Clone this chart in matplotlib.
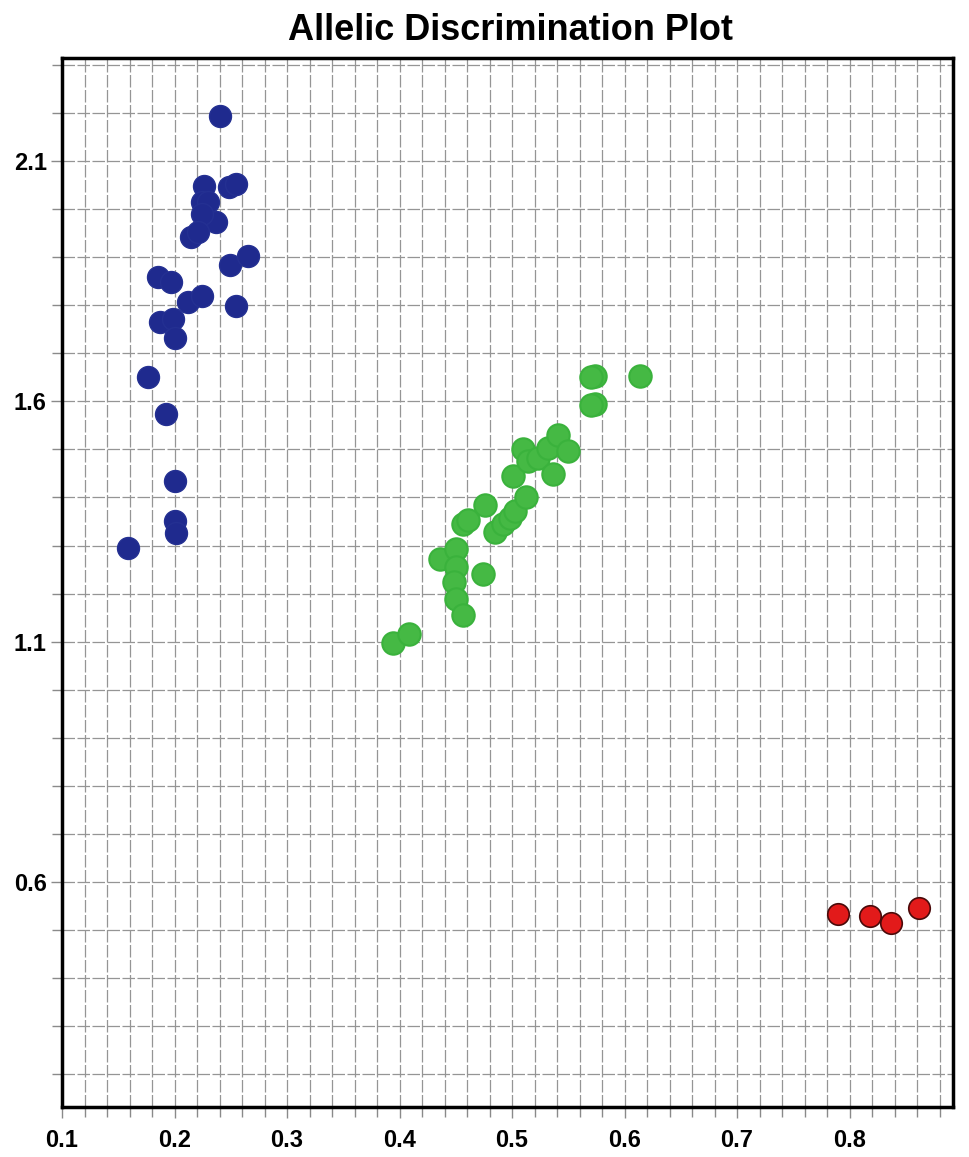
import numpy as np
import matplotlib
matplotlib.use('Agg')
import matplotlib.pyplot as plt
from matplotlib.ticker import MultipleLocator, FixedLocator

# allele 2 (blue) cluster
blue_x = [0.240, 0.226, 0.248, 0.255, 0.224, 0.230, 0.237, 0.224, 0.215, 0.221,
          0.249, 0.265, 0.185, 0.197, 0.212, 0.224, 0.255, 0.187, 0.199, 0.200,
          0.176, 0.192, 0.200, 0.200, 0.201, 0.159]
blue_y = [2.194, 2.048, 2.046, 2.052, 2.015, 2.015, 1.973, 1.990, 1.942, 1.952,
          1.885, 1.902, 1.860, 1.848, 1.806, 1.819, 1.798, 1.765, 1.771, 1.733,
          1.650, 1.573, 1.435, 1.350, 1.327, 1.294]

# heterozygote (green) cluster
green_x = [0.394, 0.408, 0.436, 0.450, 0.450, 0.448, 0.450, 0.456, 0.474, 0.456,
           0.461, 0.476, 0.485, 0.492, 0.498, 0.503, 0.512, 0.501, 0.510, 0.514,
           0.523, 0.532, 0.541, 0.550, 0.536, 0.574, 0.574, 0.614, 0.570, 0.570]
green_y = [1.098, 1.115, 1.271, 1.292, 1.256, 1.223, 1.188, 1.156, 1.240, 1.344,
           1.354, 1.385, 1.329, 1.344, 1.358, 1.371, 1.400, 1.444, 1.500, 1.475,
           1.483, 1.504, 1.531, 1.496, 1.448, 1.652, 1.594, 1.652, 1.650, 1.592]

# allele 1 (red) cluster
red_x = [0.790, 0.818, 0.837, 0.862]
red_y = [0.533, 0.529, 0.515, 0.546]

x_labels = [0.1, 0.2, 0.3, 0.4, 0.5, 0.6, 0.7, 0.8]
y_labels = [0.6, 1.1, 1.6, 2.1]

fig = plt.figure(figsize=(9.69, 11.57), dpi=100)
ax = fig.add_axes([0.064, 0.0432, 0.9195, 0.9067])

ax.set_xlim(0.1, 0.892)
ax.set_ylim(0.131, 2.315)

ax.xaxis.set_major_locator(FixedLocator(x_labels))
ax.xaxis.set_minor_locator(MultipleLocator(0.02))
ax.yaxis.set_major_locator(FixedLocator(y_labels))
ax.yaxis.set_minor_locator(MultipleLocator(0.1))

ax.grid(which='both', color='#959595', linestyle=(0, (10, 2)), linewidth=0.9)
ax.set_axisbelow(True)

ax.scatter(blue_x, blue_y, s=250, color='#1f2a8e', edgecolors='#243092', linewidths=1, zorder=3)
ax.scatter(green_x, green_y, s=260, color='#45b944', edgecolors='#3ab23c', linewidths=1.5, zorder=3)
ax.scatter(red_x, red_y, s=240, color='#e21a1a', edgecolors='#4a0a0a', linewidths=1.2, zorder=3)

for sp in ax.spines.values():
    sp.set_linewidth(2.5)
    sp.set_color('black')

ax.tick_params(which='both', direction='out', color='#8a8a8a', width=1)
ax.tick_params(which='major', length=8, labelsize=17)
ax.tick_params(axis='x', which='major', pad=8)
ax.tick_params(axis='y', which='major', pad=3)
ax.tick_params(which='minor', length=7)
ax.set_xticklabels([f'{v:.1f}' for v in x_labels], fontweight='bold', fontfamily='Liberation Sans')
ax.set_yticklabels([f'{v:.1f}' for v in y_labels], fontweight='bold', fontfamily='Liberation Sans')

fig.suptitle('Allelic Discrimination Plot', x=0.527, y=0.989, va='top',
             fontsize=26, fontweight='bold', fontfamily='Liberation Sans')

fig.savefig('out.png', dpi=100)
